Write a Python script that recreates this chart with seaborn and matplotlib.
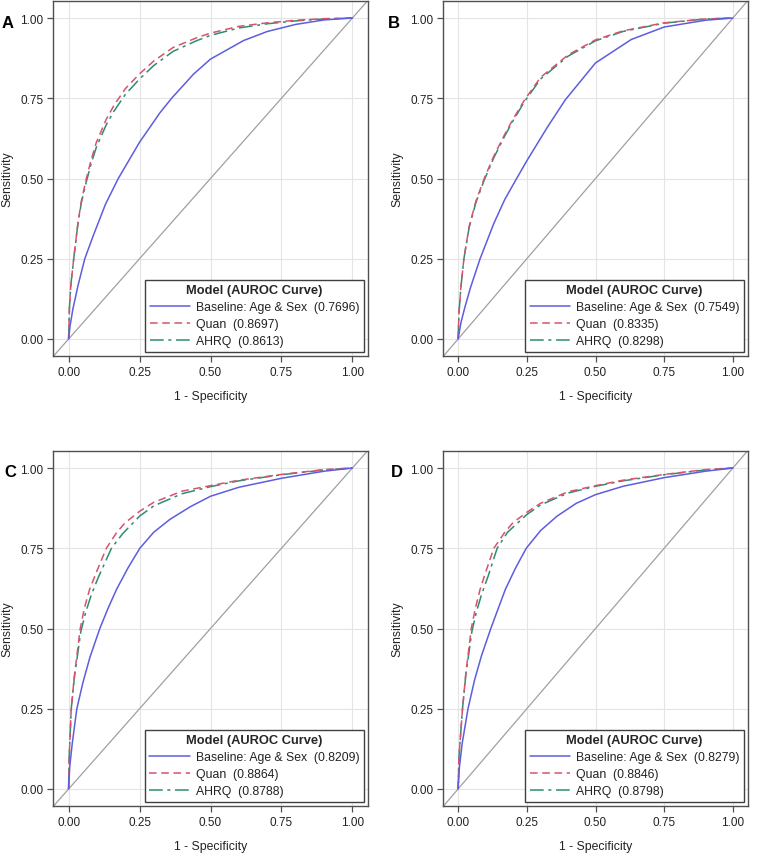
import numpy as np
import pandas as pd
import matplotlib
matplotlib.use('Agg')
import matplotlib.pyplot as plt
import seaborn as sns

sns.set_theme(style='whitegrid')
plt.rcParams['font.family'] = ['Liberation Sans', 'DejaVu Sans']

# ROC points (fpr = 1 - specificity, tpr = sensitivity)
panel_names = ['A', 'B', 'C', 'D']
model_names = ['Baseline: Age & Sex', 'Quan', 'AHRQ']

auroc = {
    'A': [0.7696, 0.8697, 0.8613],
    'B': [0.7549, 0.8335, 0.8298],
    'C': [0.8209, 0.8864, 0.8788],
    'D': [0.8279, 0.8846, 0.8798],
}

# panel A
base_fpr_a = [0, 0.005, 0.015, 0.033, 0.057, 0.086, 0.13, 0.175, 0.25, 0.322, 0.363, 0.44, 0.5, 0.617, 0.7, 0.8, 0.9, 1.0]
base_tpr_a = [0, 0.04, 0.093, 0.166, 0.25, 0.32, 0.42, 0.5, 0.613, 0.705, 0.75, 0.825, 0.872, 0.93, 0.958, 0.98, 0.994, 1.0]
comor_fpr_a = [0, 0.003, 0.008, 0.018, 0.033, 0.045, 0.0625, 0.08, 0.098, 0.133, 0.16, 0.2, 0.25, 0.3, 0.368, 0.45, 0.5, 0.6, 0.7, 0.8, 0.9, 1.0]
quan_tpr_a = [0, 0.1, 0.17, 0.25, 0.363, 0.43, 0.5, 0.56, 0.613, 0.685, 0.728, 0.78, 0.826, 0.866, 0.908, 0.938, 0.953, 0.974, 0.985, 0.993, 0.998, 1.0]
ahrq_tpr_a = [0, 0.1, 0.17, 0.25, 0.36, 0.425, 0.49, 0.548, 0.598, 0.668, 0.71, 0.762, 0.81, 0.852, 0.896, 0.929, 0.946, 0.969, 0.982, 0.991, 0.997, 1.0]

# panel B
base_fpr_b = [0, 0.01, 0.025, 0.045, 0.08, 0.13, 0.17, 0.213, 0.25, 0.325, 0.39, 0.5, 0.63, 0.75, 0.9, 1.0]
base_tpr_b = [0, 0.05, 0.1, 0.16, 0.25, 0.36, 0.435, 0.5, 0.555, 0.66, 0.745, 0.86, 0.933, 0.972, 0.993, 1.0]
comor_fpr_b = [0, 0.003, 0.01, 0.021, 0.04, 0.065, 0.095, 0.13, 0.17, 0.2, 0.242, 0.3, 0.4, 0.5, 0.6, 0.75, 0.9, 1.0]
quan_tpr_b = [0, 0.08, 0.16, 0.25, 0.35, 0.43, 0.5, 0.57, 0.638, 0.685, 0.745, 0.815, 0.885, 0.932, 0.96, 0.985, 0.997, 1.0]
ahrq_tpr_b = [0, 0.08, 0.16, 0.25, 0.347, 0.426, 0.495, 0.565, 0.633, 0.68, 0.74, 0.81, 0.881, 0.929, 0.958, 0.984, 0.997, 1.0]

# panel C
base_fpr_c = [0, 0.004, 0.013, 0.029, 0.05, 0.075, 0.11, 0.14, 0.169, 0.21, 0.251, 0.3, 0.357, 0.43, 0.5, 0.6, 0.75, 0.9, 1.0]
base_tpr_c = [0, 0.07, 0.143, 0.25, 0.33, 0.41, 0.5, 0.565, 0.622, 0.69, 0.75, 0.8, 0.84, 0.88, 0.912, 0.94, 0.968, 0.99, 1.0]
quan_fpr_c = [0, 0.002, 0.0094, 0.02, 0.041, 0.056, 0.074, 0.1, 0.133, 0.17, 0.2, 0.25, 0.3, 0.4, 0.5, 0.6, 0.75, 0.9, 1.0]
quan_tpr_c = [0, 0.1, 0.25, 0.35, 0.5, 0.565, 0.622, 0.68, 0.75, 0.8, 0.83, 0.865, 0.893, 0.928, 0.945, 0.962, 0.98, 0.995, 1.0]
ahrq_fpr_c = [0, 0.002, 0.0094, 0.02, 0.043, 0.06, 0.08, 0.105, 0.151, 0.19, 0.25, 0.3, 0.4, 0.5, 0.6, 0.75, 0.9, 1.0]
ahrq_tpr_c = [0, 0.1, 0.25, 0.345, 0.49, 0.55, 0.605, 0.66, 0.75, 0.795, 0.85, 0.882, 0.92, 0.942, 0.96, 0.979, 0.994, 1.0]

# panel D
base_fpr_d = [0, 0.005, 0.015, 0.036, 0.06, 0.085, 0.119, 0.145, 0.172, 0.21, 0.248, 0.3, 0.36, 0.43, 0.5, 0.6, 0.75, 0.9, 1.0]
base_tpr_d = [0, 0.07, 0.143, 0.25, 0.34, 0.415, 0.5, 0.56, 0.622, 0.69, 0.75, 0.805, 0.85, 0.89, 0.917, 0.943, 0.97, 0.99, 1.0]
quan_fpr_d = [0, 0.003, 0.016, 0.028, 0.048, 0.062, 0.08, 0.104, 0.13, 0.17, 0.2, 0.25, 0.3, 0.4, 0.5, 0.6, 0.75, 0.9, 1.0]
quan_tpr_d = [0, 0.1, 0.25, 0.36, 0.5, 0.56, 0.622, 0.685, 0.75, 0.8, 0.83, 0.862, 0.89, 0.926, 0.945, 0.962, 0.98, 0.995, 1.0]
ahrq_fpr_d = [0, 0.003, 0.016, 0.028, 0.05, 0.066, 0.085, 0.11, 0.142, 0.18, 0.25, 0.3, 0.4, 0.5, 0.6, 0.75, 0.9, 1.0]
ahrq_tpr_d = [0, 0.1, 0.25, 0.355, 0.49, 0.55, 0.605, 0.665, 0.75, 0.8, 0.855, 0.885, 0.922, 0.943, 0.96, 0.979, 0.994, 1.0]

curves = {
    'A': [(base_fpr_a, base_tpr_a), (comor_fpr_a, quan_tpr_a), (comor_fpr_a, ahrq_tpr_a)],
    'B': [(base_fpr_b, base_tpr_b), (comor_fpr_b, quan_tpr_b), (comor_fpr_b, ahrq_tpr_b)],
    'C': [(base_fpr_c, base_tpr_c), (quan_fpr_c, quan_tpr_c), (ahrq_fpr_c, ahrq_tpr_c)],
    'D': [(base_fpr_d, base_tpr_d), (quan_fpr_d, quan_tpr_d), (ahrq_fpr_d, ahrq_tpr_d)],
}

ticks = [0.0, 0.25, 0.5, 0.75, 1.0]
tick_labels = ['0.00', '0.25', '0.50', '0.75', '1.00']

colors = ['#5d5de0', '#d6546b', '#2e8c72']
styles = ['-', (0, (5, 3)), (0, (9, 3, 2, 3))]

W, H = 759, 854
fig = plt.figure(figsize=(W / 100, H / 100), dpi=100)

# axes boxes in pixels: left, top, right, bottom
boxes = {'A': (53, 2, 368, 357), 'B': (443, 2, 748, 357),
         'C': (53, 452, 368, 807), 'D': (443, 452, 748, 807)}
label_pos = {'A': (8, 24), 'B': (394, 24), 'C': (10, 473), 'D': (397, 473)}

text_col = '#222222'
for p in panel_names:
    l, t, r, b = boxes[p]
    ax = fig.add_axes([l / W, 1 - b / H, (r - l) / W, (b - t) / H])
    ax.axline((0, 0), (1, 1), color='#a0a0a0', lw=0.9, zorder=1)
    for i, (fpr, tpr) in enumerate(curves[p]):
        df = pd.DataFrame({'fpr': fpr, 'tpr': tpr})
        lbl = '{}  ({:.4f})'.format(model_names[i], auroc[p][i])
        sns.lineplot(data=df, x='fpr', y='tpr', color=colors[i], linestyle=styles[i],
                     lw=1.1, estimator=None, sort=False, label=lbl, ax=ax, zorder=3 - i * 0.1)
    ax.set_xlim(-0.055, 1.055)
    ax.set_ylim(-0.053, 1.053)
    ax.set_xticks(ticks)
    ax.set_yticks(ticks)
    ax.set_xticklabels(tick_labels, fontsize=8.5, color=text_col)
    ax.set_yticklabels(tick_labels, fontsize=8.5, color=text_col)
    ax.grid(True, color='#e4e4e4', lw=0.8)
    ax.set_facecolor('white')
    for s in ax.spines.values():
        s.set_color('#505050')
        s.set_linewidth(1.0)
    ax.tick_params(axis='both', which='both', bottom=True, left=True, length=4,
                   width=0.9, color='#505050', direction='out', pad=3)
    ax.set_xlabel('1 - Specificity', fontsize=8.8, color=text_col, labelpad=9)
    ax.set_ylabel('Sensitivity', fontsize=8.8, color=text_col, labelpad=5)
    leg = ax.legend(title='Model (AUROC Curve)', loc='lower right', fontsize=8.8,
                    title_fontproperties={'weight': 'bold', 'size': 9.3},
                    frameon=True, fancybox=False, edgecolor='#404040', framealpha=1,
                    handlelength=3.3, handletextpad=0.5, borderaxespad=0.35,
                    labelspacing=0.42, borderpad=0.35)
    leg.get_frame().set_linewidth(1.0)
    for txt in leg.get_texts():
        txt.set_color(text_col)
    lx, ly = label_pos[p]
    fig.text(lx / W, 1 - ly / H, p, fontsize=12, fontweight='bold',
             ha='center', va='center', color='black')

fig.savefig('out.png', dpi=100, facecolor='white')
